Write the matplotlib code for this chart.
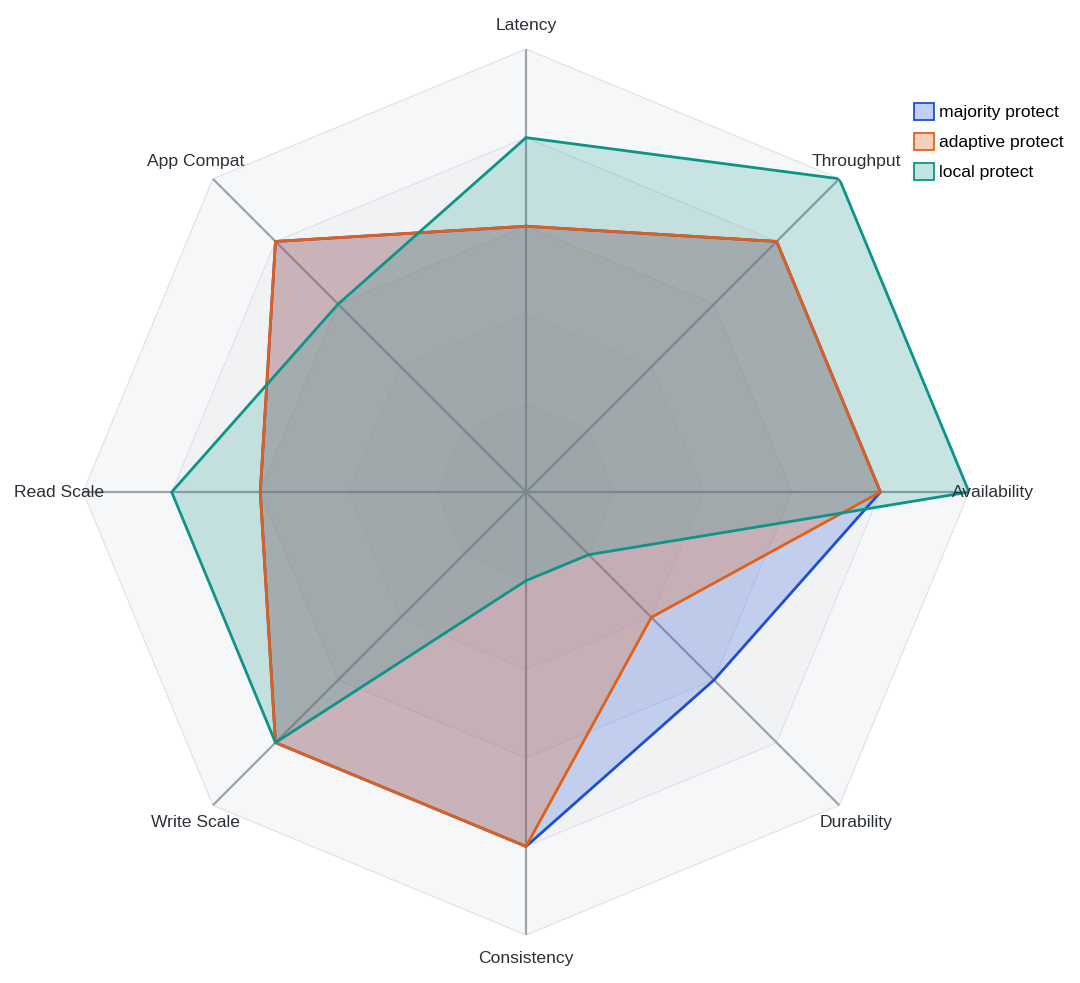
import numpy as np
import matplotlib
matplotlib.use('Agg')
import matplotlib.pyplot as plt
from matplotlib.patches import Patch

# Chart data
categories = ['Latency', 'Throughput', 'Availability', 'Durability',
              'Consistency', 'Write Scale', 'Read Scale', 'App Compat']
majority_protect = [3, 4, 4, 3, 4, 4, 3, 4]
adaptive_protect = [3, 4, 4, 2, 4, 4, 3, 4]
local_protect = [4, 5, 5, 1, 1, 4, 4, 3]
series_names = ['majority protect', 'adaptive protect', 'local protect']
grid_levels = [5, 4, 3, 2, 1]

line_colors = ['#1d4ed8', '#e0601a', '#0d9488']
fill_alphas = [0.22, 0.25, 0.2]
band_colors = ['#f6f7f9', '#f1f2f4', '#edeef1', '#e9ebee', '#e6e8eb']

plt.rcParams['font.family'] = ['Liberation Sans', 'DejaVu Sans']

n = len(categories)
angles = np.linspace(0, 2 * np.pi, n, endpoint=False)
closed = np.append(angles, angles[0])

fig = plt.figure(figsize=(10.8, 9.83), dpi=100)
ax = fig.add_axes([0.0769, 0.0488, 0.8204, 0.9013], projection='polar')
ax.set_theta_offset(np.pi / 2)
ax.set_theta_direction(-1)
ax.set_ylim(0, 5)
ax.grid(False)
ax.spines['polar'].set_visible(False)
ax.set_xticks([])
ax.set_yticks([])
ax.patch.set_alpha(0)

# polygon bands and ring lines
for lvl, bc in zip(grid_levels, band_colors):
    ring = np.full(n + 1, lvl)
    ax.fill(closed, ring, color=bc, zorder=1, lw=0)
    ax.plot(closed, ring, color='#dfe1e5', lw=0.8, zorder=2)

# spokes
for a in angles:
    ax.plot([a, a], [0, grid_levels[0]], color='#9aa4ab', lw=1.6, zorder=3)

# series
all_series = [majority_protect, adaptive_protect, local_protect]
handles = []
for vals, name, col, al in zip(all_series, series_names, line_colors, fill_alphas):
    v = np.append(vals, vals[0])
    ax.fill(closed, v, color=col, alpha=al, zorder=4, lw=0)
    ax.plot(closed, v, color=col, lw=2.0, zorder=5)
    handles.append(Patch(facecolor=matplotlib.colors.to_rgba(col, al + 0.05),
                         edgecolor=col, linewidth=1.3, label=name))

# category labels
for a, lab in zip(angles, categories):
    ax.text(a, 5.27, lab, ha='center', va='center', fontsize=12.6,
            color='#2a3037', zorder=6)

fig.legend(handles=handles, loc='upper left',
           bbox_to_anchor=(907 / 1080, 1 - 96 / 983), frameon=False,
           fontsize=12.6, handlelength=1.15, handleheight=1.1,
           handletextpad=0.3, labelspacing=0.72, borderaxespad=0)

fig.savefig('out.png', dpi=100, facecolor='white')
